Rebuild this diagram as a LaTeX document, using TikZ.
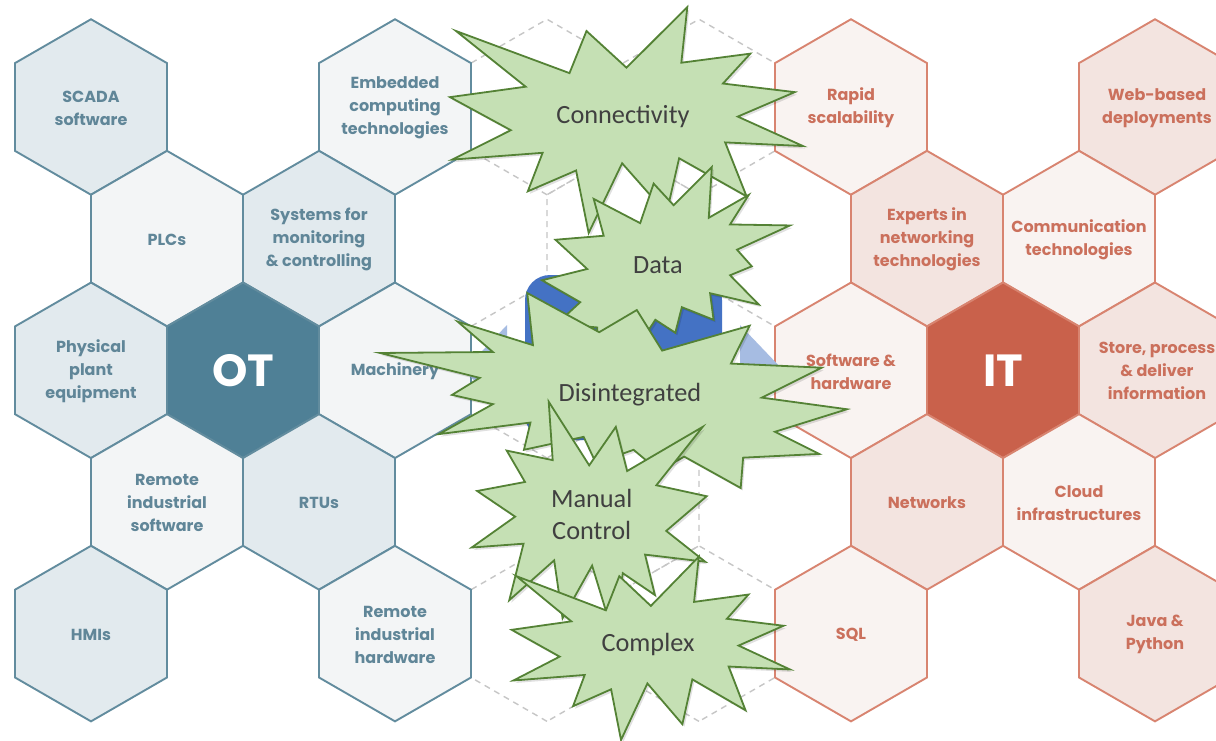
\documentclass[tikz,border=0pt]{standalone}
\usepackage{fontspec}
\setmainfont{Carlito}
\newfontfamily\hexfont{Poppins}
\newfontfamily\burstfont{Carlito}

\definecolor{otDark}{RGB}{79,128,150}
\definecolor{otLine}{RGB}{98,140,158}
\definecolor{otFillA}{RGB}{226,234,238}
\definecolor{otFillB}{RGB}{243,245,246}
\definecolor{otText}{RGB}{96,134,152}
\definecolor{itDark}{RGB}{201,97,75}
\definecolor{itLine}{RGB}{216,132,112}
\definecolor{itFillA}{RGB}{243,228,224}
\definecolor{itFillB}{RGB}{249,243,241}
\definecolor{itText}{RGB}{203,112,92}
\definecolor{gridGray}{RGB}{198,198,198}
\definecolor{boxBlue}{RGB}{68,114,196}
\definecolor{arrowBlue}{RGB}{166,188,226}
\definecolor{burstFill}{RGB}{197,224,180}
\definecolor{burstLine}{RGB}{84,130,53}
\definecolor{burstText}{RGB}{64,64,64}

% circumradius of one honeycomb cell
\def\hexR{87.76}

% explosion outlines, normalised to a 100 x 100 box
\def\sealone{(50,26.852) -- (67.231,0) -- (65.532,24.653) -- (85.093,20.634)
 -- (77.324,33.866) -- (97.671,37.671) -- (81.514,48.495) -- (100,61.528)
 -- (77.949,59.917) -- (84.005,83.773) -- (64.907,66.931) -- (61.329,91.375)
 -- (48.759,69.144) -- (39.282,100) -- (35.718,72.347) -- (22.046,81.560)
 -- (26.236,64.523) -- (0.625,67.532) -- (17.231,54.514) -- (0,39.884)
 -- (21.421,35.264) -- (1.713,10.625) -- (33.852,29.259) -- (38.667,10.625) -- cycle}
\def\sealtwo{(53.065,20.102) -- (68.472,0) -- (67.245,26.745) -- (83.366,14.685)
 -- (75.833,30.241) -- (100,30.764) -- (78.634,43.528) -- (84.583,52.269)
 -- (75.833,56.991) -- (87.394,72.370) -- (67.778,66.435) -- (69.176,80.417)
 -- (56.389,73.773) -- (53.759,87.231) -- (45.704,80.417) -- (40.278,91.259)
 -- (34.847,83.912) -- (22.764,100) -- (22.245,84.444) -- (5.949,82.523)
 -- (15.417,71.157) -- (0,59.616) -- (18.218,53.667) -- (5.426,38.287)
 -- (24.870,36.190) -- (20.843,16.782) -- (39.583,29.546) -- (45.009,8.736) -- cycle}

% #1 outline, #2/#3 anchor corner, #4 width (negative = mirrored), #5 height
\newcommand\drawburst[5]{%
  \begin{scope}[shift={(#2+2,#3+2.5)}, xscale=#4/100, yscale=#5/100]
    \fill[burstshadow] #1;
  \end{scope}
  \begin{scope}[shift={(#2,#3)}, xscale=#4/100, yscale=#5/100]
    \filldraw[burst] #1;
  \end{scope}}

\tikzset{
  hexa/.pic={\path[pic actions] (90:\hexR) -- (150:\hexR) -- (210:\hexR)
     -- (270:\hexR) -- (330:\hexR) -- (30:\hexR) -- cycle;},
  cellgrid/.style={draw=gridGray, line width=1.4, dash pattern=on 6pt off 5pt},
  otA/.style={fill=otFillA, draw=otLine, line width=1.9},
  otB/.style={fill=otFillB, draw=otLine, line width=1.9},
  otD/.style={fill=otDark, draw=otLine, line width=1.9},
  itA/.style={fill=itFillA, draw=itLine, line width=1.9},
  itB/.style={fill=itFillB, draw=itLine, line width=1.9},
  itD/.style={fill=itDark, draw=itLine, line width=1.9},
  celltext/.style={font=\hexfont\bfseries\fontsize{16}{23}\selectfont,
     align=center, inner sep=0},
  ottext/.style={celltext, text=otText},
  ittext/.style={celltext, text=itText},
  bigtext/.style={font=\hexfont\bfseries\fontsize{45}{45}\selectfont,
     text=white, inner sep=0},
  burst/.style={fill=burstFill, draw=burstLine, line width=1.8, line join=miter},
  burstshadow/.style={fill=black, opacity=0.12},
  bursttext/.style={font=\burstfont\fontsize{26.3}{32}\selectfont,
     text=burstText, align=center, inner sep=0},
}

\begin{document}
\begin{tikzpicture}[x=1pt, y=-1pt]
\useasboundingbox (0,0) rectangle (1216,741);
\clip (0,0) rectangle (1216,741);
\fill[white] (0,0) rectangle (1216,741);

% empty cells of the honeycomb between the two clusters
\pic[cellgrid] at (547,107) {hexa};
\pic[cellgrid] at (699,107) {hexa};
\pic[cellgrid] at (623,238.6) {hexa};
\pic[cellgrid] at (547,370.3) {hexa};
\pic[cellgrid] at (699,370.3) {hexa};
\pic[cellgrid] at (623,501.9) {hexa};
\pic[cellgrid] at (547,633.6) {hexa};
\pic[cellgrid] at (699,633.6) {hexa};

% OT cluster
\pic[otA] at (91,107) {hexa};
\pic[otB] at (395,107) {hexa};
\pic[otB] at (167,238.6) {hexa};
\pic[otA] at (319,238.6) {hexa};
\pic[otA] at (91,370.3) {hexa};
\pic[otD] at (243,370.3) {hexa};
\pic[otB] at (395,370.3) {hexa};
\pic[otB] at (167,501.9) {hexa};
\pic[otA] at (319,501.9) {hexa};
\pic[otA] at (91,633.6) {hexa};
\pic[otB] at (395,633.6) {hexa};

\node[ottext] (scada) at (91,108) {SCADA\\software};
\node[ottext] (embedded) at (395,108) {Embedded\\computing\\technologies};
\node[ottext] (plcs) at (167,239.6) {PLCs};
\node[ottext] (monitor) at (319,239.6) {Systems for\\monitoring\\\& controlling};
\node[ottext] (plant) at (91,371.3) {Physical\\plant\\equipment};
\node[bigtext] (ot) at (243,371) {OT};
\node[ottext] (machinery) at (395,371.3) {Machinery};
\node[ottext] (remsw) at (167,502.9) {Remote\\industrial\\software};
\node[ottext] (rtus) at (319,502.9) {RTUs};
\node[ottext] (hmis) at (91,634.6) {HMIs};
\node[ottext] (remhw) at (395,634.6) {Remote\\industrial\\hardware};

% IT cluster
\pic[itB] at (851,107) {hexa};
\pic[itA] at (1155,107) {hexa};
\pic[itA] at (927,238.6) {hexa};
\pic[itB] at (1079,238.6) {hexa};
\pic[itB] at (851,370.3) {hexa};
\pic[itD] at (1003,370.3) {hexa};
\pic[itA] at (1155,370.3) {hexa};
\pic[itA] at (927,501.9) {hexa};
\pic[itB] at (1079,501.9) {hexa};
\pic[itB] at (851,633.6) {hexa};
\pic[itA] at (1155,633.6) {hexa};

\node[ittext] (rapid) at (851,108) {Rapid\\scalability};
\node[ittext] (webdep) at (1157,108) {Web-based\\deployments};
\node[ittext] (experts) at (927,239.6) {Experts in\\networking\\technologies};
\node[ittext] (comm) at (1079,239.6) {Communication\\technologies};
\node[ittext] (swhw) at (851,371.3) {Software \&\\hardware};
\node[bigtext] (it) at (1003,371) {IT};
\node[ittext] (store) at (1157,371.3) {Store, process\\\& deliver\\information};
\node[ittext] (networks) at (927,502.9) {Networks};
\node[ittext] (cloud) at (1079,502.9) {Cloud\\infrastructures};
\node[ittext] (sql) at (851,634.6) {SQL};
\node[ittext] (java) at (1155,634.6) {Java \&\\Python};

% central hub with its two pointers
\fill[arrowBlue] (507,325) -- (464,370) -- (507,415) -- cycle;
\fill[arrowBlue] (740,325) -- (783,370) -- (740,415) -- cycle;
\fill[boxBlue, rounded corners=25] (525,275) rectangle (722,440);

% explosions, back to front
\drawburst{\sealone}{450}{7}{353}{226}
\node[bursttext] (conn) at (623,117) {Connectivity};
\drawburst{\sealtwo}{542}{167}{248}{190}
\node[bursttext] (data) at (658,265) {Data};
\drawburst{\sealtwo}{847}{293}{-467}{195}
\node[bursttext] (disint) at (630,395) {Disintegrated};
\drawburst{\sealone}{706.7}{401.7}{-235}{237}
\node[bursttext] (manual) at (591.7,514) {Manual\\Control};
\drawburst{\sealone}{511.7}{556.7}{278.3}{183.3}
\node[bursttext] (complex) at (648,644) {Complex};
\end{tikzpicture}
\end{document}
